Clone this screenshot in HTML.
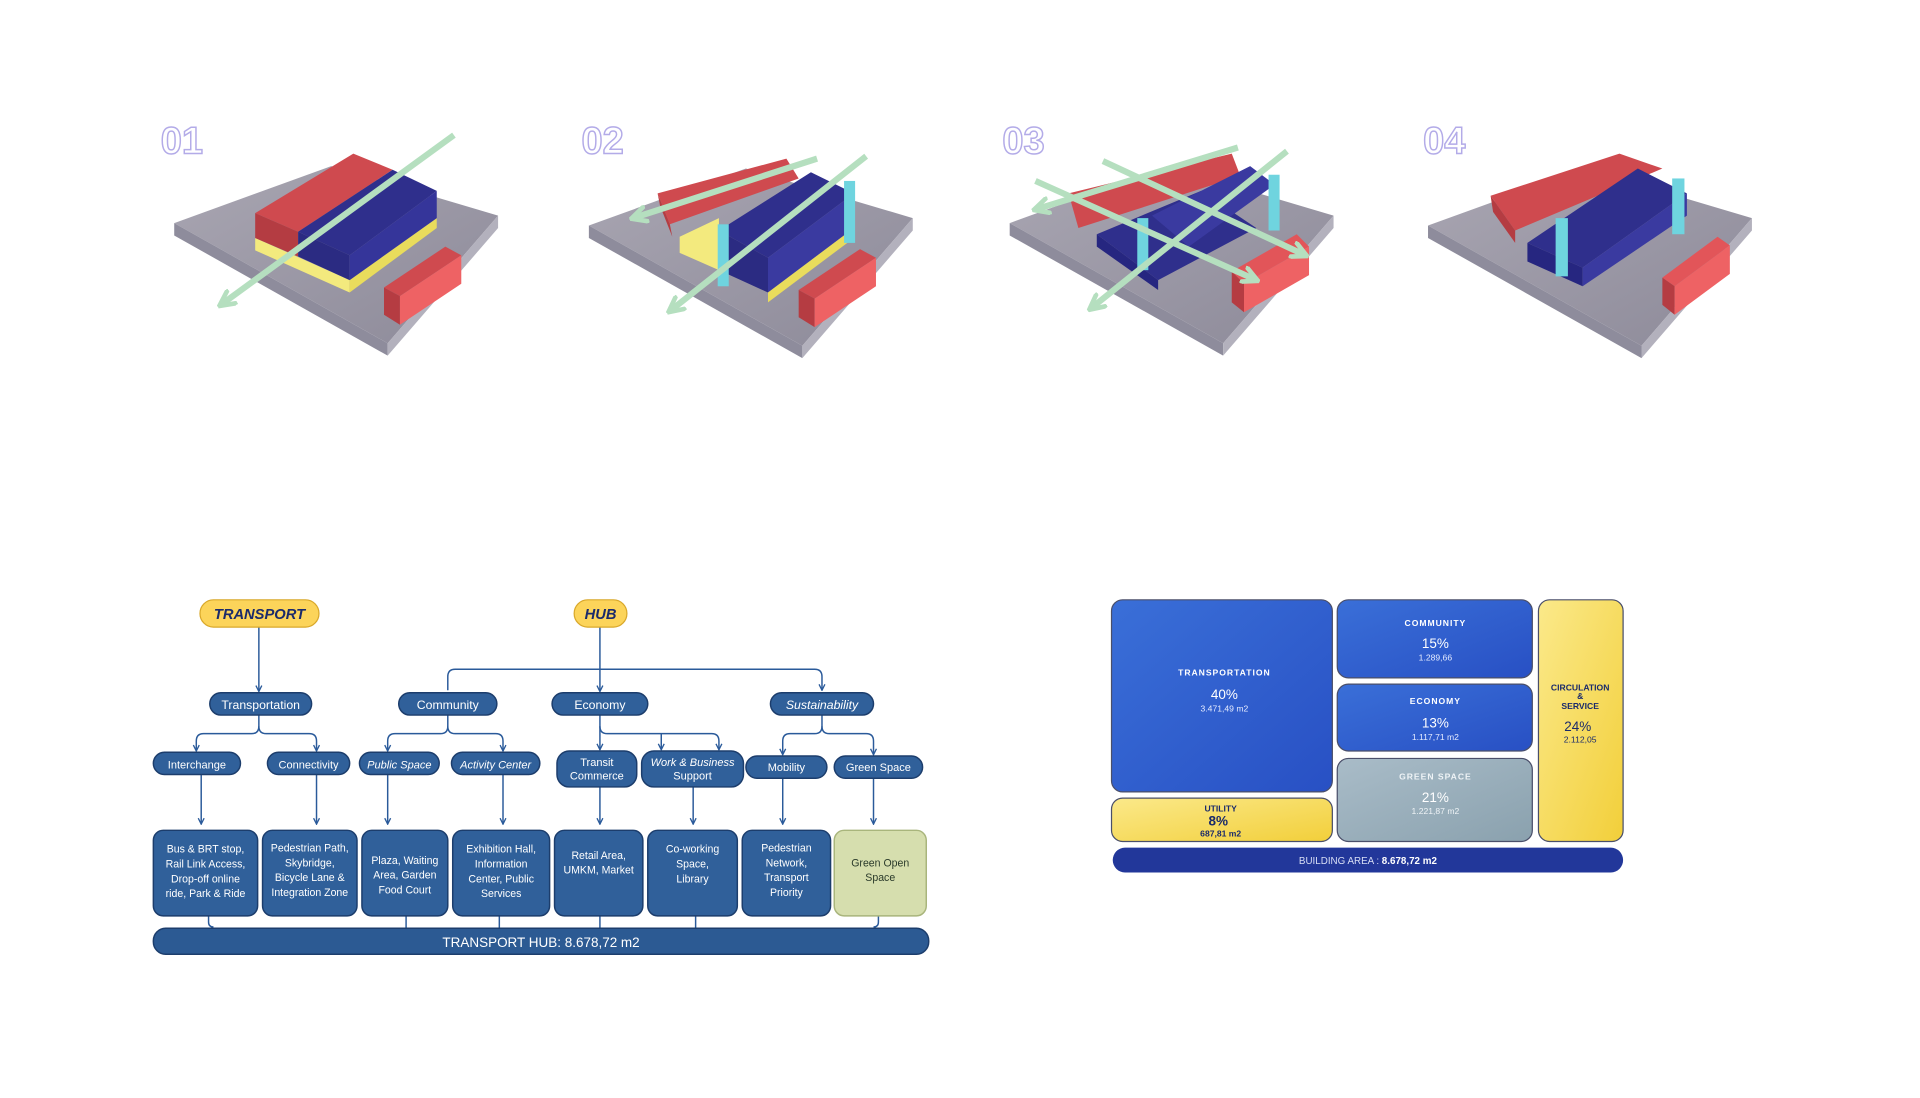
<!DOCTYPE html>
<html><head><meta charset="utf-8"><style>
html,body{margin:0;padding:0;background:#fff;}
svg{display:block;font-family:"Liberation Sans",sans-serif;}
</style></head><body>
<svg width="1920" height="1098" viewBox="2 6 1565 886" preserveAspectRatio="none" xmlns="http://www.w3.org/2000/svg">
<defs>
<marker id="ah" viewBox="0 0 10 10" refX="9" refY="5" markerWidth="5" markerHeight="5" orient="auto"><path d="M1 1 L9 5 L1 9" fill="none" stroke="#2a5a9a" stroke-width="1.8"/></marker>
<marker id="gh" viewBox="0 0 10 10" refX="8" refY="5" markerWidth="3" markerHeight="3" orient="auto"><path d="M1 1 L9 5 L1 9" fill="none" stroke="#b5dfbf" stroke-width="2.5" stroke-linecap="round"/></marker>
<linearGradient id="slab" x1="0" y1="0" x2="1" y2="1"><stop offset="0" stop-color="#a9a6b2"/><stop offset="1" stop-color="#8d8a99"/></linearGradient>
<linearGradient id="yel" x1="0" y1="0" x2="1" y2="1"><stop offset="0" stop-color="#fbe98a"/><stop offset="1" stop-color="#f2cf3a"/></linearGradient>
<linearGradient id="blu" x1="0" y1="0" x2="1" y2="1"><stop offset="0" stop-color="#3a6fd8"/><stop offset="1" stop-color="#2850c4"/></linearGradient>
<linearGradient id="grn" x1="0" y1="0" x2="1" y2="1"><stop offset="0" stop-color="#a9bcc8"/><stop offset="1" stop-color="#8aa1ae"/></linearGradient>
<g id="slabg">
<polygon points="144,186 272,140 408,180 318,283" fill="url(#slab)"/>
<polygon points="144,186 318,283 318,293 144,196" fill="#8e8c9c"/>
<polygon points="318,283 408,180 408,190 318,293" fill="#b3b1bd"/>
</g>
<g id="smallred">
<polygon points="315,238 365,205 378,212 328,245" fill="#cf4a4f"/>
<polygon points="315,238 328,245 328,268 315,260" fill="#b53c42"/>
<polygon points="328,245 378,212 378,235 328,268" fill="#ee6264"/>
</g>
</defs>

<g font-size="31" fill="none" stroke="#b3abe8" stroke-width="1.2" font-weight="bold">
<text x="133" y="130">01</text><text x="476" y="130">02</text><text x="819" y="130">03</text><text x="1162" y="130">04</text>
</g>

<use href="#slabg"/><use href="#smallred"/>
<polygon points="210,198 287,232 287,242 210,208" fill="#f3ea7e"/>
<polygon points="287,232 358,182 358,190 287,242" fill="#e9dc5c"/>
<polygon points="210,178 290,130 322,143 245,193" fill="#cf4a4f"/>
<polygon points="245,193 322,143 358,160 287,212" fill="#2f2f8c"/>
<polygon points="210,178 245,193 245,213 210,198" fill="#b43c42"/>
<polygon points="245,193 287,212 287,232 245,213" fill="#2b2b82"/>
<polygon points="287,212 358,160 358,182 287,232" fill="#35359a"/>
<line x1="372" y1="115" x2="182" y2="252" stroke="#b5dfbf" stroke-width="5" marker-end="url(#gh)"/>

<g transform="translate(338,2)"><use href="#slabg"/><use href="#smallred"/>
<polygon points="200,160 305,132 315,148 210,185" fill="#cf4a4f"/>
<polygon points="200,160 210,185 212,195 202,170" fill="#b43c42"/>
<polygon points="218,195 250,180 250,222 218,208" fill="#f3ea7e"/>
<polygon points="250,190 325,143 360,160 290,212" fill="#2f2f8c"/>
<polygon points="250,190 290,212 290,240 250,222" fill="#2b2b82"/>
<polygon points="290,212 360,160 360,188 290,240" fill="#3a3aa0"/>
<polygon points="290,240 360,188 360,196 290,248" fill="#e9dc5c"/>
<rect x="249" y="185" width="9" height="50" fill="#6fd4df"/>
<rect x="352" y="150" width="9" height="50" fill="#6fd4df"/>
<line x1="330" y1="132" x2="180" y2="180" stroke="#b5dfbf" stroke-width="5" marker-end="url(#gh)"/>
<line x1="370" y1="130" x2="210" y2="255" stroke="#b5dfbf" stroke-width="5" marker-end="url(#gh)"/>
</g>

<g transform="translate(681,0)"><use href="#slabg"/>
<polygon points="325,225 378,195 388,205 335,235" fill="#e25559"/>
<polygon points="325,225 335,235 335,258 325,250" fill="#b53c42"/>
<polygon points="335,235 388,205 388,228 335,258" fill="#ee6264"/>
<polygon points="192,162 325,130 332,148 200,190" fill="#cf4a4f"/>
<polygon points="215,195 300,160 345,190 265,232" fill="#2f2f8c"/>
<polygon points="260,180 340,140 360,155 290,205" fill="#3a3aa0"/>
<polygon points="215,195 265,232 265,240 215,205" fill="#262680"/>
<rect x="248" y="182" width="9" height="42" fill="#6fd4df"/>
<rect x="355" y="147" width="9" height="45" fill="#6fd4df"/>
<line x1="330" y1="125" x2="165" y2="175" stroke="#b5dfbf" stroke-width="5" marker-end="url(#gh)"/>
<line x1="370" y1="128" x2="210" y2="255" stroke="#b5dfbf" stroke-width="5" marker-end="url(#gh)"/>
<line x1="220" y1="136" x2="385" y2="212" stroke="#b5dfbf" stroke-width="5" marker-end="url(#gh)"/>
<line x1="165" y1="152" x2="345" y2="232" stroke="#b5dfbf" stroke-width="5" marker-end="url(#gh)"/>
</g>

<g transform="translate(1022,2)"><use href="#slabg"/>
<polygon points="335,228 380,195 390,202 345,235" fill="#e25559"/>
<polygon points="335,228 345,235 345,258 335,250" fill="#b53c42"/>
<polygon points="345,235 390,202 390,225 345,258" fill="#ee6264"/>
<polygon points="195,162 300,128 335,140 215,190" fill="#cf4a4f"/>
<polygon points="195,162 215,190 215,200 197,175" fill="#b43c42"/>
<polygon points="225,200 315,140 355,160 270,220" fill="#2f2f8c"/>
<polygon points="225,200 270,220 270,235 225,215" fill="#262680"/>
<polygon points="270,220 355,160 355,178 270,235" fill="#3a3aa0"/>
<rect x="248" y="180" width="10" height="47" fill="#6fd4df"/>
<rect x="343" y="148" width="10" height="45" fill="#6fd4df"/>
</g>

<g fill="none" stroke="#2a5a9a" stroke-width="1.2">
<path d="M213 512 V564" marker-end="url(#ah)"/>
<path d="M213 583 V592 Q213 598 207 598 H168 Q162 598 162 604 V612" marker-end="url(#ah)"/>
<path d="M213 592 Q213 598 219 598 H254 Q260 598 260 604 V612" marker-end="url(#ah)"/>
<path d="M491 512 V564" marker-end="url(#ah)"/>
<path d="M367 563 V552 Q367 546 373 546 H666 Q672 546 672 552 V563" marker-end="url(#ah)"/>
<path d="M367 583 V592 Q367 598 361 598 H324 Q318 598 318 604 V612" marker-end="url(#ah)"/>
<path d="M367 592 Q367 598 373 598 H406 Q412 598 412 604 V612" marker-end="url(#ah)"/>
<path d="M491 583 V611" marker-end="url(#ah)"/>
<path d="M491 592 Q491 598 497 598 H582 Q588 598 588 604 V611" marker-end="url(#ah)"/>
<path d="M541 598 V611" marker-end="url(#ah)"/>
<path d="M672 583 V592 Q672 598 666 598 H646 Q640 598 640 604 V615" marker-end="url(#ah)"/>
<path d="M672 592 Q672 598 678 598 H708 Q714 598 714 604 V615" marker-end="url(#ah)"/>
<path d="M166 631 V671" marker-end="url(#ah)"/>
<path d="M260 631 V671" marker-end="url(#ah)"/>
<path d="M318 631 V671" marker-end="url(#ah)"/>
<path d="M412 631 V671" marker-end="url(#ah)"/>
<path d="M491 641 V671" marker-end="url(#ah)"/>
<path d="M567 641 V671" marker-end="url(#ah)"/>
<path d="M640 634 V671" marker-end="url(#ah)"/>
<path d="M714 634 V671" marker-end="url(#ah)"/>
<path d="M172 745 V750 Q172 754 176 754 M333 745 V755 M409 745 V755 M491 745 V755 M569 745 V755 M718 745 V750 Q718 754 714 754"/>
</g>

<rect x="165" y="490" width="97" height="22" rx="11" fill="#fcd45a" stroke="#d9a82a" stroke-width="1"/>
<text x="213.5" y="505.5" text-anchor="middle" font-size="12" font-weight="bold" font-style="italic" fill="#1a2a6b">TRANSPORT</text>
<rect x="470" y="490" width="43" height="22" rx="11" fill="#fcd45a" stroke="#d9a82a" stroke-width="1"/>
<text x="491.5" y="505.5" text-anchor="middle" font-size="12" font-weight="bold" font-style="italic" fill="#1a2a6b">HUB</text>

<g fill="#30609a" stroke="#1c3d6c" stroke-width="1.2">
<rect x="173" y="565" width="83" height="18" rx="9"/>
<rect x="327" y="565" width="80" height="18" rx="9"/>
<rect x="452" y="565" width="78" height="18" rx="9"/>
<rect x="630" y="565" width="84" height="18" rx="9"/>
<rect x="127" y="613" width="71" height="18" rx="9"/>
<rect x="220" y="613" width="67" height="18" rx="9"/>
<rect x="295" y="613" width="65" height="18" rx="9"/>
<rect x="370" y="613" width="72" height="18" rx="9"/>
<rect x="456" y="612" width="65" height="29" rx="10"/>
<rect x="525" y="612" width="83" height="29" rx="10"/>
<rect x="610" y="616" width="66" height="18" rx="9"/>
<rect x="682" y="616" width="72" height="18" rx="9"/>
</g>
<g fill="#fff" font-size="10" text-anchor="middle">
<text x="214.5" y="578">Transportation</text>
<text x="367" y="578">Community</text>
<text x="491" y="578">Economy</text>
<text x="672" y="578" font-style="italic">Sustainability</text>
<text x="162.5" y="626" font-size="9">Interchange</text>
<text x="253.5" y="626" font-size="9">Connectivity</text>
<text x="327.5" y="626" font-size="9" font-style="italic">Public Space</text>
<text x="406" y="626" font-size="9" font-style="italic">Activity Center</text>
<text x="488.5" y="624" font-size="9">Transit</text><text x="488.5" y="635" font-size="9">Commerce</text>
<text x="566.5" y="624" font-size="9" font-style="italic">Work &amp; Business</text><text x="566.5" y="635" font-size="9">Support</text>
<text x="643" y="628" font-size="9">Mobility</text>
<text x="718" y="628" font-size="9">Green Space</text>
</g>

<g fill="#30609a" stroke="#1c3d6c" stroke-width="1.2">
<rect x="127" y="676" width="85" height="69" rx="8"/>
<rect x="216" y="676" width="77" height="69" rx="8"/>
<rect x="297" y="676" width="70" height="69" rx="8"/>
<rect x="371" y="676" width="79" height="69" rx="8"/>
<rect x="454" y="676" width="72" height="69" rx="8"/>
<rect x="530" y="676" width="73" height="69" rx="8"/>
<rect x="607" y="676" width="72" height="69" rx="8"/>
</g>
<rect x="682" y="676" width="75" height="69" rx="8" fill="#d6deae" stroke="#a9b57c" stroke-width="1.2"/>
<g fill="#fff" font-size="8.6" text-anchor="middle">
<text x="169.5" y="694">Bus &amp; BRT stop,</text><text x="169.5" y="706">Rail Link Access,</text><text x="169.5" y="718">Drop-off online</text><text x="169.5" y="730">ride, Park &amp; Ride</text>
<text x="254.5" y="693">Pedestrian Path,</text><text x="254.5" y="705">Skybridge,</text><text x="254.5" y="717">Bicycle Lane &amp;</text><text x="254.5" y="729">Integration Zone</text>
<text x="332" y="703">Plaza, Waiting</text><text x="332" y="715">Area, Garden</text><text x="332" y="727">Food Court</text>
<text x="410.5" y="694">Exhibition Hall,</text><text x="410.5" y="706">Information</text><text x="410.5" y="718">Center, Public</text><text x="410.5" y="730">Services</text>
<text x="490" y="699">Retail Area,</text><text x="490" y="711">UMKM, Market</text>
<text x="566.5" y="694">Co-working</text><text x="566.5" y="706">Space,</text><text x="566.5" y="718">Library</text>
<text x="643" y="693">Pedestrian</text><text x="643" y="705">Network,</text><text x="643" y="717">Transport</text><text x="643" y="729">Priority</text>
<text x="719.5" y="705" fill="#2a3a2a">Green Open</text><text x="719.5" y="717" fill="#2a3a2a">Space</text>
</g>
<rect x="127" y="755" width="632" height="21" rx="10" fill="#2c5a93" stroke="#1c3d6c" stroke-width="1.2"/>
<text x="443" y="770" text-anchor="middle" fill="#fff" font-size="11">TRANSPORT HUB: 8.678,72 m2</text>

<g stroke="#4a4f6a" stroke-width="1">
<rect x="908" y="490" width="180" height="155" rx="9" fill="url(#blu)"/>
<rect x="1092" y="490" width="159" height="63" rx="9" fill="url(#blu)"/>
<rect x="1092" y="558" width="159" height="54" rx="9" fill="url(#blu)"/>
<rect x="1092" y="618" width="159" height="67" rx="9" fill="url(#grn)"/>
<rect x="1256" y="490" width="69" height="195" rx="9" fill="url(#yel)"/>
<rect x="908" y="650" width="180" height="35" rx="9" fill="url(#yel)"/>
</g>
<rect x="909" y="690" width="416" height="20" rx="10" fill="#22379a"/>
<g text-anchor="middle" font-weight="bold">
<text x="1000" y="551" font-size="7" fill="#fff" letter-spacing="0.8">TRANSPORTATION</text>
<text x="1000" y="570" font-size="11" fill="#fff" font-weight="normal">40%</text>
<text x="1000" y="580" font-size="7" fill="#e6ecff" font-weight="normal">3.471,49 m2</text>
<text x="1172" y="511" font-size="7" fill="#fff" letter-spacing="0.8">COMMUNITY</text>
<text x="1172" y="529" font-size="11" fill="#fff" font-weight="normal">15%</text>
<text x="1172" y="539" font-size="7" fill="#e6ecff" font-weight="normal">1.289,66</text>
<text x="1172" y="574" font-size="7" fill="#fff" letter-spacing="0.8">ECONOMY</text>
<text x="1172" y="593" font-size="11" fill="#fff" font-weight="normal">13%</text>
<text x="1172" y="603" font-size="7" fill="#e6ecff" font-weight="normal">1.117,71 m2</text>
<text x="1172" y="635" font-size="7" fill="#eef3f6" letter-spacing="0.8">GREEN SPACE</text>
<text x="1172" y="653" font-size="11" fill="#fff" font-weight="normal">21%</text>
<text x="1172" y="663" font-size="7" fill="#eef3f6" font-weight="normal">1.221,87 m2</text>
<text x="1290" y="563" font-size="7" fill="#1a2a6b">CIRCULATION</text>
<text x="1290" y="570" font-size="7" fill="#1a2a6b">&amp;</text>
<text x="1290" y="578" font-size="7" fill="#1a2a6b">SERVICE</text>
<text x="1288" y="596" font-size="11" fill="#1a2a6b" font-weight="normal">24%</text>
<text x="1290" y="605" font-size="7" fill="#1a2a6b" font-weight="normal">2.112,05</text>
<text x="997" y="661" font-size="7" fill="#1a2a6b">UTILITY</text>
<text x="995" y="672" font-size="11" fill="#1a2a6b">8%</text>
<text x="997" y="681" font-size="7" fill="#1a2a6b">687,81 m2</text>
</g>
<text x="1117" y="703" text-anchor="middle" font-size="8" fill="#d9dff5">BUILDING AREA : <tspan font-weight="bold" fill="#fff">8.678,72 m2</tspan></text>
</svg>
</body></html>
